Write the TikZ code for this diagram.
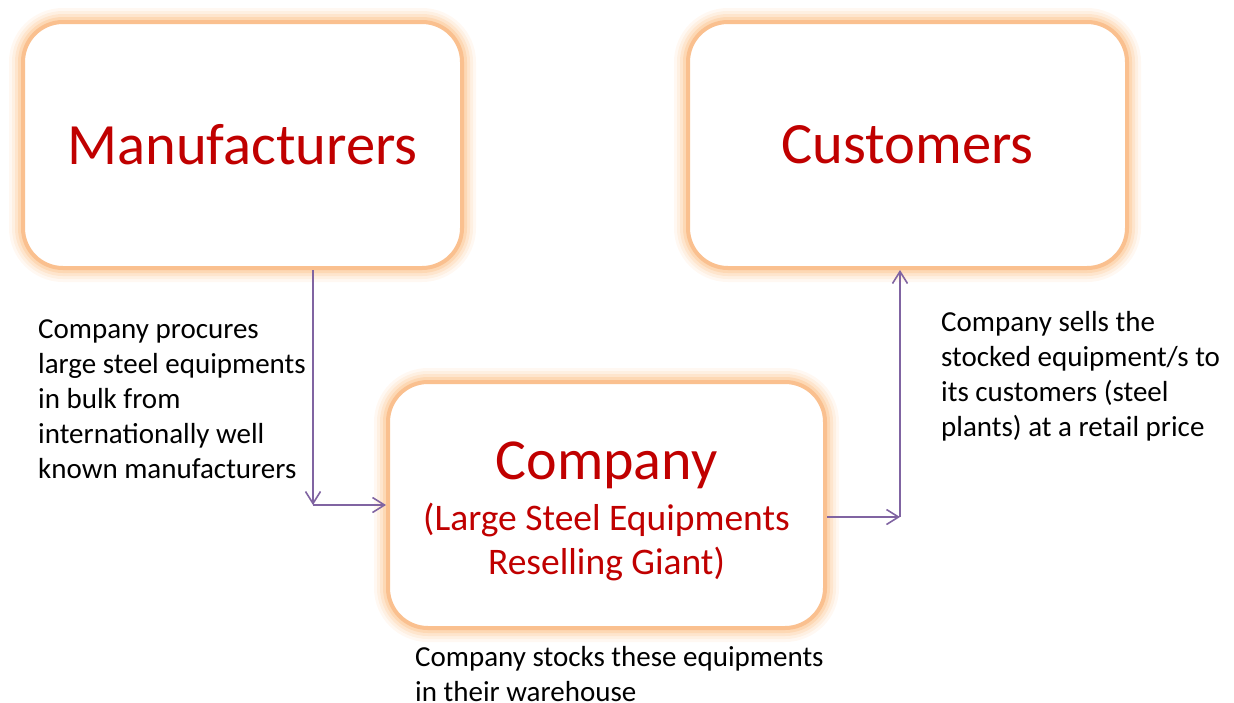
\documentclass[tikz,border=0pt]{standalone}
\usepackage{fontspec}
\setmainfont{Carlito}
\usetikzlibrary{arrows.meta}

\definecolor{boxred}{RGB}{192,0,0}
\definecolor{boxedge}{RGB}{250,192,143}
\definecolor{boxglow}{RGB}{252,200,150}
\definecolor{flowpurple}{RGB}{128,100,162}

\begin{document}
\begin{tikzpicture}[x=1pt,y=-1pt,
  glowbox/.style={rounded corners=40pt, fill=white, draw=boxedge, line width=4pt,
    text=boxred, align=center, inner sep=0pt,
    preaction={draw=boxglow, line width=28pt, draw opacity=0.12},
    preaction={draw=boxglow, line width=22pt, draw opacity=0.18},
    preaction={draw=boxglow, line width=16pt, draw opacity=0.28},
    preaction={draw=boxglow, line width=10pt, draw opacity=0.45}},
  bigtext/.style={font=\fontsize{58.5}{62}\selectfont},
  note/.style={anchor=north west, inner sep=0pt, align=left,
    font=\fontsize{29}{35}\selectfont},
  flow/.style={draw=flowpurple, line width=1.6pt,
    -{Straight Barb[length=12pt,width=15pt]}}]
  \useasboundingbox (0,0) rectangle (1234,702);

  % the three boxes
  \node[glowbox, bigtext, minimum width=439, minimum height=246] (manu) at (242.5,145) {Manufacturers};
  \node[glowbox, bigtext, minimum width=439, minimum height=246] (cust) at (907.5,145) {Customers};
  \node[glowbox, font=\fontsize{37.5}{44}\selectfont, minimum width=437, minimum height=246]
    (comp) at (606.5,505)
    {\rule{0pt}{50pt}{\fontsize{58}{62}\selectfont Company}\\[7pt]
     (Large Steel Equipments\\
     Reselling Giant)};

  % goods flow
  \coordinate (bend1) at (313,505);
  \coordinate (bend2) at (900,517);
  \draw[flow] (bend1 |- manu.south) -- (bend1);
  \draw[flow] (bend1) -- (comp.west);
  \draw[flow] (comp.east |- bend2) -- (bend2);
  \draw[flow] (bend2) -- (bend2 |- cust.south);

  % notes
  \node[note] (procure) at (38,319) {Company procures\\large steel equipments\\in bulk from\\internationally well\\known manufacturers};
  \node[note] (sells) at (941,311) {Company sells the\\stocked equipment/s to\\its customers (steel\\plants) at a retail price};
  \node[note] (stocks) at (415,646) {Company stocks these equipments\\in their warehouse};
\end{tikzpicture}
\end{document}
